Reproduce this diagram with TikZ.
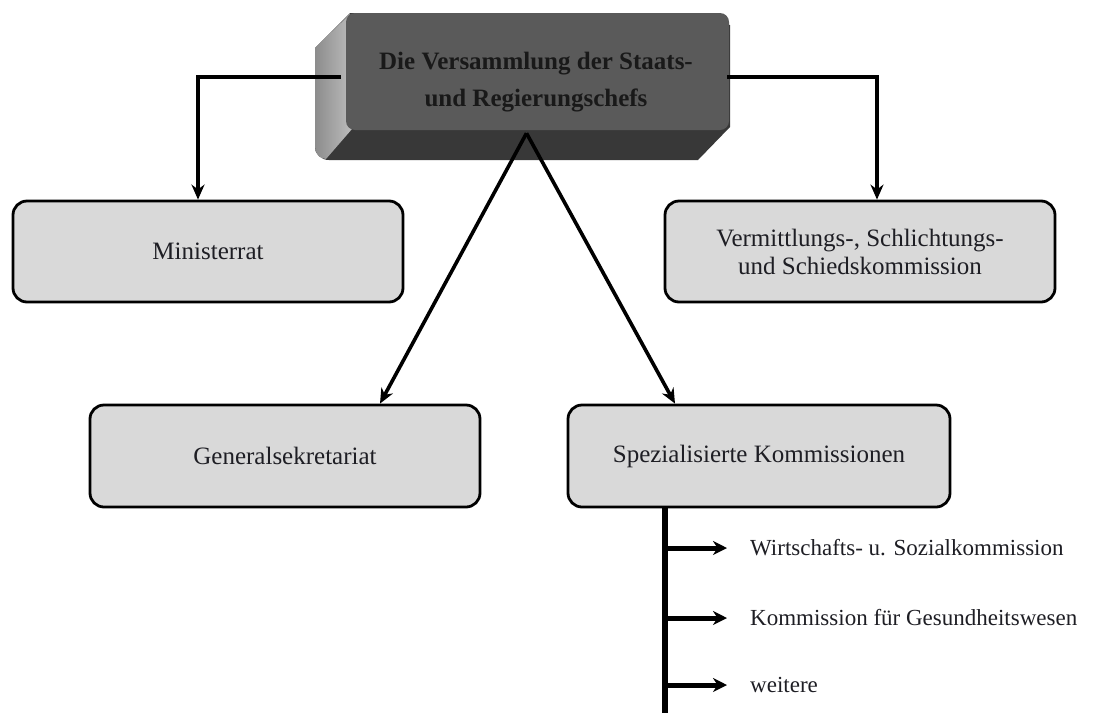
\documentclass[tikz,border=0pt]{standalone}
\usepackage{fontspec}
\setmainfont{Liberation Serif}
\usetikzlibrary{arrows.meta,calc}
\definecolor{boxfill}{HTML}{D9D9D9}
\definecolor{frontface}{HTML}{5A5A5A}
\definecolor{bottomface}{HTML}{383838}
\definecolor{sideface}{HTML}{8C8C8C}
\definecolor{sidelight}{HTML}{BDBDBD}
\definecolor{txt}{HTML}{1E1E24}
\tikzset{
  orgbox/.style={draw=black, line width=2.8pt, rounded corners=14pt, fill=boxfill,
    minimum width=390pt, minimum height=101pt, inner sep=0pt, align=center,
    font=\fontsize{25}{28}\selectfont, text=txt},
  conn/.style={line width=3.6pt, draw=black, -{Stealth[length=15pt,width=13pt]}},
  branch/.style={line width=5pt, draw=black, -{Stealth[length=14pt,width=14pt]}},
  trunk/.style={line width=6pt, draw=black},
  itemtext/.style={anchor=west, inner sep=5pt, font=\fontsize{23}{26}\selectfont, text=txt},
}
\begin{document}
\begin{tikzpicture}[x=1pt,y=-1pt]
\useasboundingbox (0,0) rectangle (1093,713);
% --- 3D top box ---
\fill[bottomface] (350,13) -- (315,48) -- (315,147) to[out=90+180,in=180] (329,160)
  -- (698,160) -- (730,127) -- (730,25) -- cycle;
\shade[left color=sideface, right color=sidelight]
  (350,14) -- (315,48) -- (315,147) to[out=270,in=180] (326,159) -- (352,129) -- cycle;
\fill[frontface, rounded corners=9pt] (346,13) rectangle (729,130);
\node[minimum width=383pt, minimum height=117pt, inner sep=0pt] (top) at (537.5,71.5) {};
\node[align=center, font=\bfseries\fontsize{25}{37}\selectfont, text=black!90] (toptext) at (536,82)
  {Die Versammlung der Staats-\\und Regierungschefs};
% --- boxes ---
\node[orgbox] (mini) at (208,251.5) {Ministerrat};
\node[orgbox] (verm) at (860,251.5) {Vermittlungs-, Schlichtungs-\\und Schiedskommission};
\node[orgbox, minimum height=102pt] (gen) at (285,456) {Generalsekretariat};
\node[orgbox, minimum width=382pt, minimum height=102pt] (spez) at (759,456) {Spezialisierte Kommissionen};
% --- connectors ---
\coordinate (apex) at ($(top.south)+(-11,3)$);
\draw[conn] ($(top.west)+(-5,5.5)$) -| ($(mini.north)+(-10,0)$);
\draw[conn] ($(top.east)+(-2,5.5)$) -| ($(verm.north)+(17,0)$);
\draw[conn] (apex) -- ($(gen.north)+(95,0)$);
\draw[conn] (apex) -- ($(spez.north)+(-84,0)$);
% --- sub commissions ---
\coordinate (trunktop) at ($(spez.south)+(-94,0)$);
\coordinate (trunkend) at (665,713);
\draw[trunk] (trunktop) -- (trunkend);
\node[itemtext] (w1) at (745,548) {Wirtschafts- u. Sozialkommission};
\node[itemtext] (w2) at (745,618) {Kommission für Gesundheitswesen};
\node[itemtext] (w3) at (745,685) {weitere};
\draw[branch, shorten >=18pt] (trunktop |- w1.west) -- (w1.west);
\draw[branch, shorten >=18pt] (trunktop |- w2.west) -- (w2.west);
\draw[branch, shorten >=18pt] (trunktop |- w3.west) -- (w3.west);
\end{tikzpicture}
\end{document}
